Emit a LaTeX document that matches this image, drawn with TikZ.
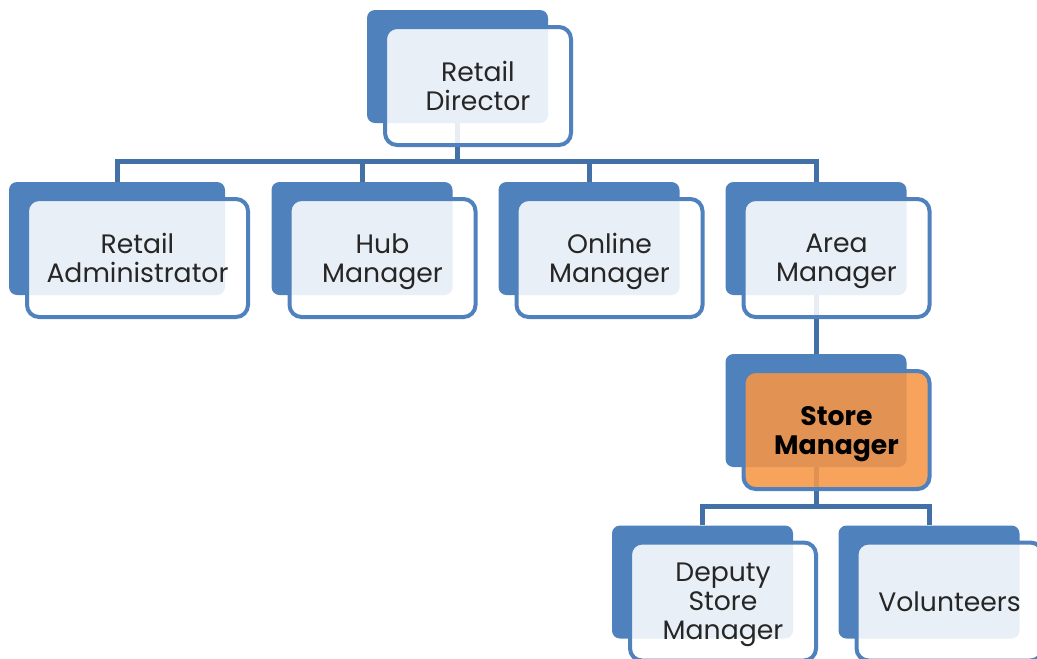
\documentclass[tikz,border=0pt]{standalone}
\usepackage{fontspec}
\setmainfont{Poppins}
\definecolor{boxblue}{HTML}{4F81BD}
\definecolor{linkblue}{HTML}{4470A8}
\definecolor{storeorange}{HTML}{F79646}
\definecolor{txtgray}{HTML}{262626}

\begin{document}
\begin{tikzpicture}[x=0.75pt, y=-0.75pt,
        back/.style  = {fill=boxblue, rounded corners=6pt, inner sep=0pt,
                        minimum width=135.75pt, minimum height=84.75pt},
        front/.style = {draw=boxblue, line width=3pt, fill=white, fill opacity=0.88,
                        text opacity=1, rounded corners=9pt, inner sep=0pt,
                        minimum width=139.5pt, minimum height=88.5pt, align=center,
                        text=txtgray, font=\fontsize{20}{21.75}\selectfont, text depth=0pt},
        link/.style  = {draw=linkblue, line width=3.75pt}]
            \useasboundingbox (0,0) rectangle (1037,658);
            \clip (0,0) rectangle (1037,658);

            % draw blue backs
            \node[back] (dirB)   at (457.5, 66.5) {};
            \node[back, minimum width=162pt] (admB) at (117, 238.5) {};
            \node[back] (hubB)   at (362, 238.5) {};
            \node[back] (onlB)   at (589, 238.5) {};
            \node[back] (areaB)  at (816, 238.5) {};
            \node[back] (storeB) at (816, 410.5) {};
            \node[back] (depB)   at (702.5, 582) {};
            \node[back] (volB)   at (929, 582) {};

            % draw links
            \draw[link] (dirB.south) -- ++(0,38) coordinate (bus);
            \draw[link] (admB.north) |- (bus) -| (areaB.north);
            \draw[link] (hubB.north) -- (hubB.north |- bus);
            \draw[link] (onlB.north) -- (onlB.north |- bus);
            \draw[link] (areaB.south) -- (storeB.north);
            \draw[link] (storeB.south) -- ++(0,39) coordinate (bus2);
            \draw[link] (depB.north) |- (bus2) -| (volB.north);

            % draw front boxes
            \node[front] (dir) at ([shift={(20.5,19.5)}]dirB.center) {Retail\\Director};
            \node[front, minimum width=165.75pt] (adm) at ([shift={(20.5,19.5)}]admB.center) {Retail\\Administrator};
            \node[front] (hub)  at ([shift={(20.5,19.5)}]hubB.center)  {Hub\\Manager};
            \node[front] (onl)  at ([shift={(20.5,19.5)}]onlB.center)  {Online\\Manager};
            \node[front] (area) at ([shift={(20.5,19.5)}]areaB.center) {Area\\Manager};
            \node[front, fill=storeorange, text=black, font=\fontsize{20}{21.75}\selectfont\bfseries]
                (store) at ([shift={(20.5,19.5)}]storeB.center) {Store\\Manager};
            \node[front] (dep)  at ([shift={(20.5,19.5)}]depB.center)  {Deputy\\Store\\Manager};
            \node[front] (vol)  at ([shift={(20.5,19.5)}]volB.center)  {Volunteers};
        \end{tikzpicture}
\end{document}
